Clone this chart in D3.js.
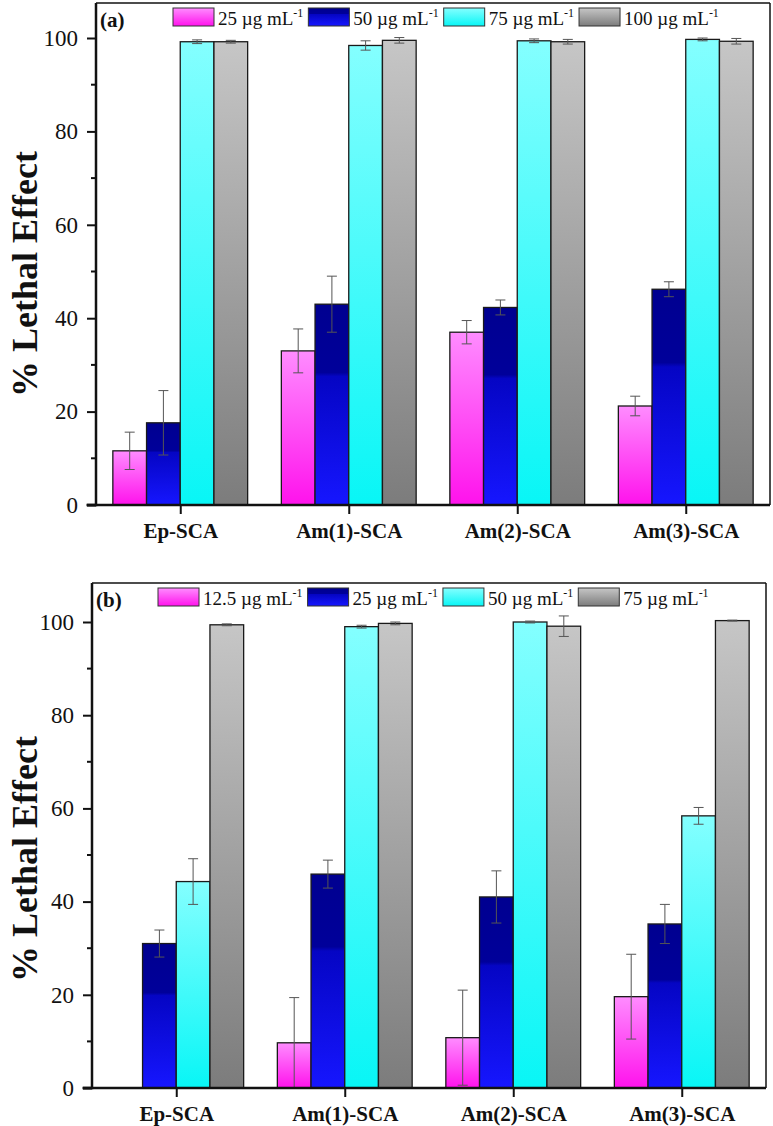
<!DOCTYPE html>
<html><head><meta charset="utf-8">
<script src="https://cdn.jsdelivr.net/npm/d3@7"></script>
<style>html,body{margin:0;padding:0;background:#fff;}svg{display:block;}</style>
</head><body>
<svg id="c" width="773" height="1126"></svg>
<script>
const categories = ["Ep-SCA","Am(1)-SCA","Am(2)-SCA","Am(3)-SCA"];
const yTicks = [0,20,40,60,80,100];
const yMinorTicks = [10,30,50,70,90];

// Panel (a)
const legendA = ["25","50","75","100"];
const a25 = [11.6, 33.0, 37.0, 21.2];
const a25Err = [4.0, 4.7, 2.5, 2.1];
const a50 = [17.6, 43.0, 42.3, 46.2];
const a50Err = [6.9, 6.0, 1.6, 1.6];
const a75 = [99.2, 98.4, 99.4, 99.7];
const a75Err = [0.4, 1.0, 0.4, 0.3];
const a100 = [99.2, 99.5, 99.2, 99.3];
const a100Err = [0.3, 0.6, 0.5, 0.6];

// Panel (b)
const legendB = ["12.5","25","50","75"];
const b12 = [0, 9.7, 10.8, 19.6];
const b12Err = [0, 9.7, 10.2, 9.1];
const b25 = [31.0, 45.9, 41.0, 35.2];
const b25Err = [2.9, 3.0, 5.6, 4.2];
const b50 = [44.3, 99.0, 100.0, 58.4];
const b50Err = [4.9, 0.3, 0.2, 1.8];
const b75 = [99.4, 99.7, 99.1, 100.3];
const b75Err = [0.2, 0.3, 2.2, 0.1];

const svg = d3.select("#c");
const FONT = "'Liberation Serif','Times New Roman',serif";
const defs = svg.append("defs");
const grads = [
  {id:"gPink", stops:[[0,"#ff8cff"],[1,"#ff12ec"]]},
  {id:"gBlue", stops:[[0,"#000090"],[0.34,"#00009a"],[0.36,"#0505c4"],[1,"#1616ff"]]},
  {id:"gCyan", stops:[[0,"#84ffff"],[1,"#08f6f6"]]},
  {id:"gGray", stops:[[0,"#c6c6c6"],[1,"#7c7c7c"]]}
];
grads.forEach(g=>{
  const lg = defs.append("linearGradient").attr("id",g.id).attr("x1",0).attr("y1",0).attr("x2",0).attr("y2",1);
  g.stops.forEach(s=>lg.append("stop").attr("offset",s[0]).attr("stop-color",s[1]));
});
const fills = ["url(#gPink)","url(#gBlue)","url(#gCyan)","url(#gGray)"];

function panel(opt){
  const {left,right,top,bottom,pxPer,tag,legend,series,errs,legendX,titleY} = opt;
  const ymax = (bottom-top)/pxPer;
  const y = d3.scaleLinear().domain([0,ymax]).range([bottom,top]);
  const x = d3.scaleLinear().domain([0.5,4.5]).range([left,right]);
  const bw = (x(1.2)-x(1));
  const g = svg.append("g");

  // bars
  series.forEach((vals,si)=>{
    vals.forEach((v,ci)=>{
      if(v<=0) return;
      const x0 = x(ci+1) + (si-2)*bw;
      g.append("rect").attr("x",x0).attr("y",y(v)).attr("width",bw).attr("height",y(0)-y(v))
        .attr("fill",fills[si]).attr("stroke","#1a1a1a").attr("stroke-width",1.3);
    });
  });
  // error bars
  series.forEach((vals,si)=>{
    vals.forEach((v,ci)=>{
      const e = errs[si][ci];
      if(v<=0 || !e) return;
      const cx = x(ci+1) + (si-2)*bw + bw/2;
      const y1 = y(v+e), y2 = y(Math.max(0,v-e));
      g.append("line").attr("x1",cx).attr("x2",cx).attr("y1",y1).attr("y2",y2).attr("stroke","#555").attr("stroke-width",1);
      [y1,y2].forEach(yy=>g.append("line").attr("x1",cx-5).attr("x2",cx+5).attr("y1",yy).attr("y2",yy).attr("stroke","#555").attr("stroke-width",1));
    });
  });

  // frame
  g.append("line").attr("x1",left).attr("x2",right).attr("y1",top).attr("y2",top).attr("stroke","#111").attr("stroke-width",1.5);
  g.append("line").attr("x1",right).attr("x2",right).attr("y1",top).attr("y2",bottom).attr("stroke","#111").attr("stroke-width",1.5);

  // y axis
  const ya = d3.axisLeft(y).tickValues(yTicks).tickSize(9).tickPadding(9).tickFormat(d3.format("d"));
  const yg = g.append("g").attr("transform",`translate(${left},0)`).call(ya);
  yg.select(".domain").attr("stroke","#111").attr("stroke-width",2.5).attr("d",`M-9.5,${bottom}H0V${top}`);
  yg.selectAll(".tick line").attr("stroke","#111").attr("stroke-width",2);
  yg.selectAll(".tick text").attr("font-family",FONT).attr("font-size",23).attr("fill","#111");
  const ym = g.append("g").attr("transform",`translate(${left},0)`);
  ym.selectAll("line").data(yMinorTicks).join("line").attr("x1",-5).attr("x2",0).attr("y1",d=>y(d)).attr("y2",d=>y(d)).attr("stroke","#111").attr("stroke-width",2);

  // x axis
  const xa = d3.axisBottom(x).tickValues([1,2,3,4]).tickSize(9).tickPadding(9).tickFormat(d=>categories[d-1]);
  const xg = g.append("g").attr("transform",`translate(0,${bottom})`).call(xa);
  xg.select(".domain").attr("stroke","#111").attr("stroke-width",2.5).attr("d",`M${left-9},0H${right}`);
  xg.selectAll(".tick line").attr("stroke","#111").attr("stroke-width",2);
  xg.selectAll(".tick text").attr("font-family",FONT).attr("font-size",21).attr("font-weight","bold").attr("fill","#111");

  // y title
  g.append("text").attr("transform",`translate(37,${titleY}) rotate(-90)`).attr("text-anchor","middle")
    .attr("font-family",FONT).attr("font-size",36).attr("font-weight","bold").attr("fill","#111").text("% Lethal Effect");

  // tag
  g.append("text").attr("x",left+4).attr("y",top+24).attr("font-family",FONT).attr("font-size",21).attr("font-weight","bold").attr("fill","#111").text(tag);

  // legend
  let lx = legendX;
  legend.forEach((lab,i)=>{
    g.append("rect").attr("x",lx).attr("y",top+5).attr("width",41).attr("height",18).attr("fill",fills[i]).attr("stroke","#333").attr("stroke-width",1);
    const t = g.append("text").attr("x",lx+45).attr("y",top+22).attr("font-family",FONT).attr("font-size",19).attr("fill","#111");
    t.append("tspan").text(lab+" \u00b5g mL");
    t.append("tspan").attr("font-size",12).attr("dy",-8).text("-1");
    const w = t.node().getBBox().width;
    lx += 45 + w + 5;
  });
}

panel({left:96,right:770,top:3,bottom:505,pxPer:4.67,tag:"(a)",legend:legendA,
  series:[a25,a50,a75,a100],errs:[a25Err,a50Err,a75Err,a100Err],legendX:173,titleY:274});
panel({left:92,right:766,top:583,bottom:1088,pxPer:4.66,tag:"(b)",legend:legendB,
  series:[b12,b25,b50,b75],errs:[b12Err,b25Err,b50Err,b75Err],legendX:158,titleY:859});
</script>
</body></html>
